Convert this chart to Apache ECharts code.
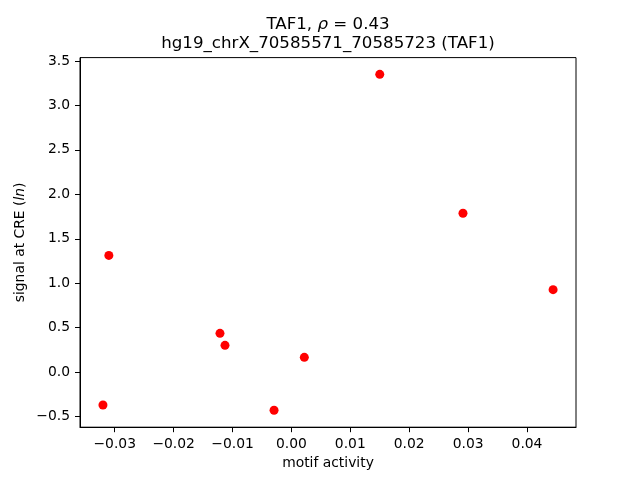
<!DOCTYPE html>
<html>
<head>
<meta charset="utf-8">
<script src="https://cdn.jsdelivr.net/npm/echarts@6/dist/echarts.min.js"></script>
<style>html,body{margin:0;padding:0;background:#fff;}#c{width:640px;height:480px;}</style>
</head>
<body>
<div id="c"></div>
<script>
var motifActivity = [-0.0310, -0.0320, -0.01213, -0.01128, -0.00295, 0.00219, 0.01500, 0.02913, 0.04443];
var signalAtCRE = [1.313, -0.369, 0.437, 0.302, -0.428, 0.167, 3.350, 1.787, 0.928];
var xTicks = [-0.03, -0.02, -0.01, 0.00, 0.01, 0.02, 0.03, 0.04];
var yTicks = [-0.5, 0.0, 0.5, 1.0, 1.5, 2.0, 2.5, 3.0, 3.5];

var FONT = 'DejaVu Sans';
function fmt(v, d) {
  var r = Math.round(v * Math.pow(10, d)) / Math.pow(10, d);
  if (Math.abs(r) < 1e-12) r = 0;
  var s = Math.abs(r).toFixed(d);
  return r < 0 ? '\u2212' + s : s;
}
var points = motifActivity.map(function (x, i) { return [x, signalAtCRE[i]]; });

var chart = echarts.init(document.getElementById('c'));
chart.setOption({
  backgroundColor: '#fff',
  animation: false,
  textStyle: { fontFamily: FONT },
  grid: { left: 80, right: 64, top: 57.6, bottom: 52.8, show: true, borderColor: '#000', borderWidth: 1, backgroundColor: 'transparent' },
  graphic: [
    { type: 'text', x: 328, y: 25, style: { text: '{a|TAF1, }{i|\u03c1}{a| = 0.43}', align: 'center', verticalAlign: 'middle',
      rich: { a: { fontFamily: FONT, fontSize: 16.67, fill: '#000' }, i: { fontFamily: FONT, fontStyle: 'italic', fontSize: 16.67, fill: '#000' } } } },
    { type: 'text', x: 328, y: 44, style: { text: 'hg19_chrX_70585571_70585723 (TAF1)', align: 'center', verticalAlign: 'middle', fontFamily: FONT, fontSize: 16.67, fill: '#000' } }
  ],
  xAxis: {
    type: 'value', min: -0.0359, max: 0.04832,
    name: 'motif activity', nameLocation: 'middle', nameGap: 29, nameMoveOverlap: false,
    nameTextStyle: { fontFamily: FONT, fontSize: 13.89, color: '#000' },
    axisLine: { show: true, onZero: false, lineStyle: { color: '#000', width: 1 } },
    axisTick: { show: true, length: 5, lineStyle: { color: '#000', width: 1 }, customValues: xTicks },
    axisLabel: { show: true, margin: 10, fontFamily: FONT, fontSize: 13.89, color: '#000', customValues: xTicks, formatter: function (v) { return fmt(v, 2); } },
    splitLine: { show: false }
  },
  yAxis: {
    type: 'value', min: -0.619, max: 3.538,
    name: '{a|signal at CRE (}{i|ln}{a|)}', nameLocation: 'middle', nameGap: 53, nameRotate: 90, nameMoveOverlap: false,
    nameTextStyle: { fontFamily: FONT, fontSize: 13.89, color: '#000',
      rich: { a: { fontFamily: FONT, fontSize: 13.89, color: '#000' }, i: { fontFamily: FONT, fontStyle: 'italic', fontSize: 13.89, color: '#000' } } },
    axisLine: { show: true, onZero: false, lineStyle: { color: '#000', width: 1 } },
    axisTick: { show: true, length: 5, lineStyle: { color: '#000', width: 1 }, customValues: yTicks },
    axisLabel: { show: true, margin: 10, fontFamily: FONT, fontSize: 13.89, color: '#000', customValues: yTicks, formatter: function (v) { return fmt(v, 1); } },
    splitLine: { show: false }
  },
  series: [{
    type: 'scatter', data: points, symbol: 'circle', symbolSize: 9,
    itemStyle: { color: '#ff0000', opacity: 1 }
  }]
});
</script>
</body>
</html>
